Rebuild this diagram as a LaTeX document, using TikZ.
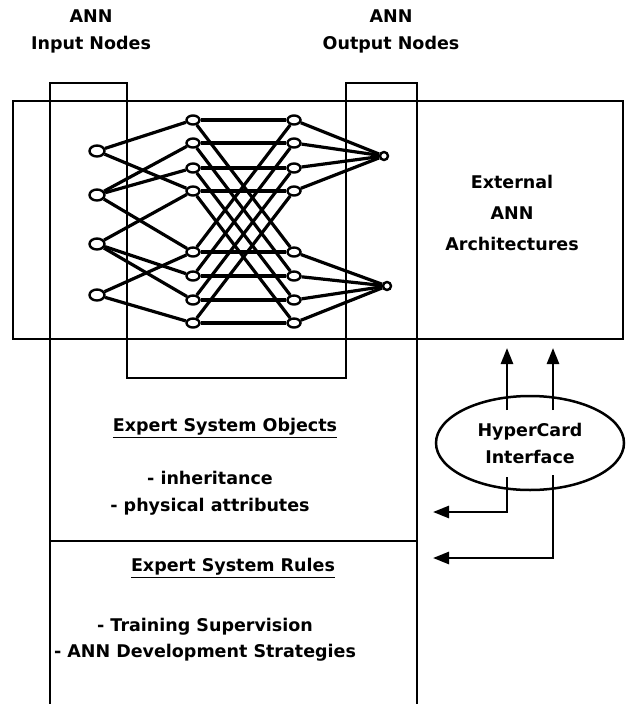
\documentclass[tikz,border=0pt]{standalone}
\usepackage{fontspec}
\setmainfont{DejaVu Sans}
\usetikzlibrary{arrows.meta,shapes.geometric}
\tikzset{
    labeltext/.style = {align=center, inner sep=0pt, font=\fontsize{17.5}{27}\selectfont\bfseries},
    node_in/.style = {ellipse, draw=black, fill=white, line width=2.4pt, minimum width=15pt, minimum height=11pt, inner sep=0pt},
    node_hid/.style = {ellipse, draw=black, fill=white, line width=2.4pt, minimum width=13pt, minimum height=9pt, inner sep=0pt},
    node_out/.style = {circle, draw=black, fill=white, line width=2.4pt, minimum size=8pt, inner sep=0pt},
    node_hc/.style = {labeltext, ellipse, draw=black, line width=2.5pt, minimum width=188pt, minimum height=94pt},
    box_line/.style = {line width=2.5pt},
    net_edge/.style = {line width=3.2pt},
    hc_arrow/.style = {line width=2.6pt, -{Triangle[length=16pt,width=12pt]}}
}
\begin{document}
\begin{tikzpicture}[x=1pt, y=-1pt]
    \useasboundingbox (0,0) rectangle (628,704);

    % frames
    \draw[box_line] (13,101) rectangle (623,339);
    \draw[box_line] (50,704) -- (50,83) -- (127,83) -- (127,378) -- (346,378)
        -- (346,83) -- (417,83) -- (417,704);
    \draw[box_line] (50,541) -- (417,541);

    % ANN layers
    \foreach \n/\y in {1/151, 2/195, 3/244, 4/295}
        \node[node_in] (in\n) at (97,\y) {};
    \foreach \n/\y in {1/120, 2/143, 3/168, 4/191, 5/252, 6/276, 7/300, 8/323} {
        \node[node_hid] (ha\n) at (193,\y) {};
        \node[node_hid] (hb\n) at (294,\y) {};
    }
    \node[node_out] (out1) at (384,156) {};
    \node[node_out] (out2) at (387,286) {};

    % connections
    \foreach \a/\b in {1/1, 1/4, 2/2, 2/3, 2/5, 3/4, 3/6, 3/7, 4/5, 4/8}
        \draw[net_edge] (in\a) -- (ha\b);
    \foreach \i in {1,...,8}
        \draw[net_edge] (ha\i) -- (hb\i);
    \foreach \a/\b in {1/5, 2/6, 3/7, 4/8, 5/1, 6/2, 7/3, 8/4}
        \draw[net_edge] (ha\a) -- (hb\b);
    \foreach \i in {1,...,4}
        \draw[net_edge] (hb\i) -- (out1);
    \foreach \i in {5,...,8}
        \draw[net_edge] (hb\i) -- (out2);

    % labels
    \node[labeltext] (inlabel) at (91,31) {ANN\\Input Nodes};
    \node[labeltext] (outlabel) at (391,31) {ANN\\Output Nodes};
    \node[labeltext, font=\fontsize{17.5}{31}\selectfont\bfseries] (extlabel) at (512,213) {External\\ANN\\Architectures};
    \node[labeltext] (objhead) at (225,428) {\underline{Expert System Objects}};
    \node[labeltext] (objlist) at (210,493) {- inheritance\\- physical attributes};
    \node[labeltext] (rulehead) at (233,568) {\underline{Expert System Rules}};
    \node[labeltext, font=\fontsize{17.5}{26}\selectfont\bfseries] (rulelist) at (205,640) {- Training Supervision\\- ANN Development Strategies};

    % HyperCard interface
    \node[node_hc] (hc) at (530,443) {HyperCard\\Interface};
    \coordinate (up1a) at (507,410);
    \coordinate (up1b) at (507,348);
    \coordinate (up2a) at (553,410);
    \coordinate (up2b) at (553,348);
    \coordinate (dn1a) at (507,477);
    \coordinate (dn1b) at (433,512);
    \coordinate (dn2a) at (553,475);
    \coordinate (dn2b) at (433,558);
    \draw[hc_arrow] (up1a) -- (up1b);
    \draw[hc_arrow] (up2a) -- (up2b);
    \draw[hc_arrow] (dn1a) |- (dn1b);
    \draw[hc_arrow] (dn2a) |- (dn2b);
\end{tikzpicture}
\end{document}
